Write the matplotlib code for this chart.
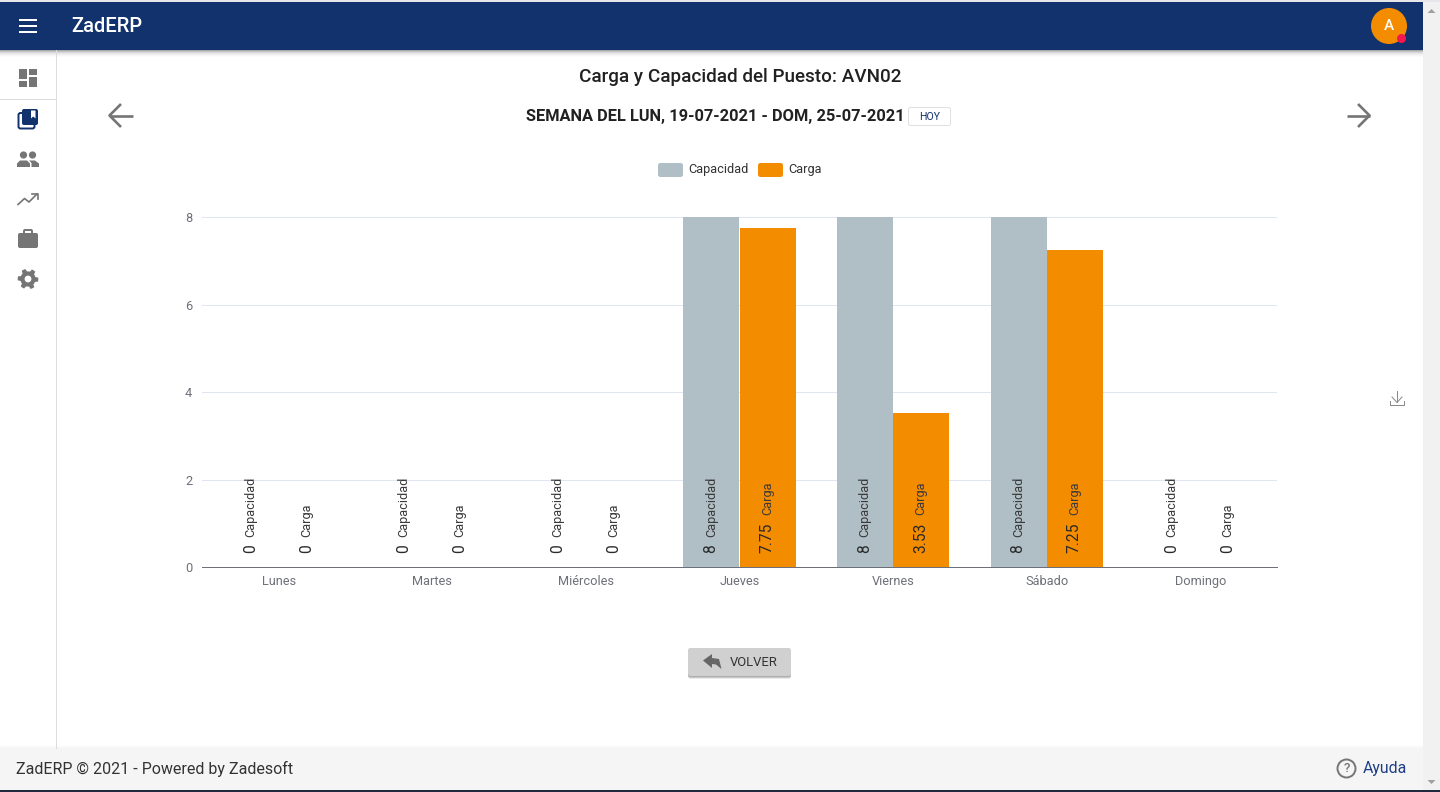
import matplotlib
matplotlib.use("Agg")
import matplotlib.pyplot as plt
import numpy as np
from matplotlib.patches import Rectangle, FancyBboxPatch, Circle, Polygon

plt.rcParams['font.family'] = ['Roboto', 'DejaVu Sans']

days = ["Lunes", "Martes", "Miércoles", "Jueves", "Viernes", "Sábado", "Domingo"]
capacidad = [0, 0, 0, 8, 8, 8, 0]
carga = [0, 0, 0, 7.75, 3.53, 7.25, 0]
yticks = [0, 2, 4, 6, 8]
series_names = ["Capacidad", "Carga"]

C_CAP = "#b0bec5"
C_CAR = "#f48c00"
NAVY = "#11326c"
GREY = "#757575"
PX = 0.72

W, H = 1440, 792
fig = plt.figure(figsize=(14.4, 7.92), dpi=100, facecolor="white")

# chart axes
ax = fig.add_axes([202/W, 1-567.4/H, 1075/W, 350/H], zorder=2)
ax.patch.set_alpha(0)
x = np.arange(len(days))
bw = 0.365
ax.bar(x-bw/2, capacidad, bw, color=C_CAP, zorder=3, antialiased=False)
ax.bar(x+bw/2, carga, bw, color=C_CAR, zorder=3, antialiased=False)
ax.set_xlim(-0.5, 6.5)
ax.set_ylim(0, 8)
ax.set_yticks(yticks)
ax.set_xticks(x)
ax.set_xticklabels(days, fontsize=9.2, color="#6e7079")
ax.tick_params(axis='x', length=0, pad=5.5)
ax.tick_params(axis='y', length=0, pad=7, labelsize=9.2, labelcolor="#6e7079")
for s in ("top", "left", "right"):
    ax.spines[s].set_visible(False)
ax.spines["bottom"].set_color("#6e7079")
ax.spines["bottom"].set_linewidth(PX)
ax.grid(axis='y', color="#e0e6f1", lw=PX, zorder=0)
ax.set_axisbelow(True)

def lab(xc, val, name):
    v = ax.annotate(f"{val:g}", (xc, 0), xytext=(-0.4, 10.5), textcoords="offset points",
                    rotation=90, ha="center", va="bottom", fontsize=11.2, color="#2a2a2a", zorder=5)
    ax.annotate(name, xy=(0.5, 1), xycoords=v, xytext=(0.3, 5), textcoords="offset points",
                rotation=90, ha="center", va="bottom", fontsize=9.2, color="#3a3a3a", zorder=5)

for i in range(len(days)):
    lab(x[i]-bw/2, capacidad[i], series_names[0])
    lab(x[i]+bw/2, carga[i], series_names[1])

# page chrome, in pixel coordinates
ov = fig.add_axes([0, 0, 1, 1], zorder=1)
ov.set_xlim(0, W); ov.set_ylim(H, 0); ov.axis("off")

def rect(a, x0, y0, w, h, c, **k):
    a.add_patch(Rectangle((x0, y0), w, h, fc=c, ec="none", **k))

# scrollbar, footer
rect(ov, 1423, 0, 17, H, "#f1f1f1")
rect(ov, 0, 748, 1423, 42, "#f5f5f5")
for i, c in enumerate(["#fdfdfd", "#fafafa", "#f8f8f8"]):
    rect(ov, 0, 745+i, 1423, 1, c)
rect(ov, 0, 790, 1440, 2, "#1f2a3c")
# header
rect(ov, 0, 0, 1440, 2, "#e4e6ea")
rect(ov, 0, 2, 1423, 48, NAVY)
for i, c in enumerate(["#a8a8a8", "#c4c4c4", "#d8d8d8", "#e6e6e6", "#efefef", "#f6f6f6", "#fbfbfb"]):
    rect(ov, 0, 50+i, 1423, 1, c)
# sidebar
ov.plot([55.5, 55.5], [50, 748], color="#dcdcdc", lw=PX)
ov.plot([0, 55], [98.5, 98.5], color="#dcdcdc", lw=PX)

# header contents
for y in (20, 26, 32):
    rect(ov, 19, y-1, 18, 2, "white")
ov.text(71.5, 26.5, "ZadERP", color="white", fontsize=14.5, va="center", ha="left", weight="medium")
ov.add_patch(Circle((1389, 26), 18, fc=C_CAR, ec="none"))
ov.text(1389, 26.5, "A", color="white", fontsize=11, va="center", ha="center", weight="medium")
ov.add_patch(Circle((1401.5, 38.5), 4.5, fc="#f5174e", ec="none"))
ov.add_patch(Polygon([(1427.5, 13), (1435.5, 13), (1431.5, 9)], fc="#a0a0a0", ec="none"))
ov.add_patch(Polygon([(1427.5, 780), (1435.5, 780), (1431.5, 784)], fc="#a0a0a0", ec="none"))

# sidebar icons
for (x0, y0, w, h) in [(19, 69, 8, 10), (19, 81, 8, 6), (29, 69, 8, 6), (29, 77, 8, 10)]:
    rect(ov, x0, y0, w, h, GREY)
ov.add_patch(FancyBboxPatch((18.5, 113), 16, 15.5, boxstyle="round,pad=0,rounding_size=2", fc="none", ec=NAVY, lw=1.4))
ov.add_patch(FancyBboxPatch((22, 109), 16, 16, boxstyle="round,pad=0,rounding_size=2", fc=NAVY, ec="none"))
ov.add_patch(Polygon([(31, 110.5), (35.5, 110.5), (35.5, 118.5), (33.2, 116.5), (31, 118.5)], fc="white", ec="none"))
# people
for cx in (23.5, 32.5):
    ov.add_patch(Circle((cx, 155), 3.6, fc=GREY, ec="none"))
ov.add_patch(Polygon([(17, 167), (17, 163.5), (20, 160.5), (27, 160.5), (30, 163.5), (30, 167)], fc=GREY, ec="none"))
ov.add_patch(Polygon([(31.5, 167), (31.5, 163), (29, 160.5), (35, 160.5), (39, 163.5), (39, 167)], fc=GREY, ec="none"))
# trending
ov.plot([18, 24.5, 29, 37], [204.5, 198.5, 202, 194], color=GREY, lw=1.2)
ov.plot([32, 37.5, 37.5], [193.5, 193.5, 199], color=GREY, lw=1.2)
# briefcase
ov.add_patch(FancyBboxPatch((18, 233), 20, 15, boxstyle="round,pad=0,rounding_size=2", fc=GREY, ec="none"))
ov.add_patch(FancyBboxPatch((24, 230), 8, 5, boxstyle="round,pad=0,rounding_size=1", fc="none", ec=GREY, lw=1.4))
# gear
ang = np.linspace(0, 2*np.pi, 49)[:-1]
rad = np.where(((np.arange(48) + 1) % 8) < 4, 10.3, 7.6)
ov.add_patch(Polygon(np.c_[28+rad*np.cos(ang), 279+rad*np.sin(ang)], fc=GREY, ec="none"))
ov.add_patch(Circle((28, 279), 3.4, fc="white", ec="none"))

# arrows
def arrow(xs, xe, y, d):
    ov.plot([xs, xe], [y, y], color=GREY, lw=1.9, solid_capstyle="butt")
    ov.plot([xe+d*11.5, xe, xe+d*11.5], [y-11.5, y, y+11.5], color=GREY, lw=1.9, solid_capstyle="butt")
arrow(132.5, 109.5, 115.5, 1)
arrow(1347, 1369.5, 115.5, -1)

# headings
ov.text(740, 76.5, "Carga y Capacidad del Puesto: AVN02", fontsize=13.55, weight="medium", color="#212121", ha="center", va="center")
ov.text(715.5, 116.5, "SEMANA DEL LUN, 19-07-2021 - DOM, 25-07-2021", fontsize=11.8, weight="bold", color="#212121", ha="center", va="center")
ov.add_patch(FancyBboxPatch((908.5, 107.5), 42, 18, boxstyle="round,pad=0,rounding_size=2", fc="white", ec="#e0e0e0", lw=PX))
ov.text(930, 116.5, "HOY", fontsize=7.6, color=NAVY, ha="center", va="center")

# legend
ov.add_patch(FancyBboxPatch((658, 163), 25, 14, boxstyle="round,pad=0,rounding_size=2.5", fc=C_CAP, ec="none"))
ov.add_patch(FancyBboxPatch((758, 163), 25, 14, boxstyle="round,pad=0,rounding_size=2.5", fc=C_CAR, ec="none"))
ov.text(688, 169.5, series_names[0], fontsize=9.2, color="#333333", va="center", ha="left")
ov.text(788, 169.5, series_names[1], fontsize=9.2, color="#333333", va="center", ha="left")

# download icon
ov.plot([1397, 1397], [391, 402], color="#8a8a8a", lw=PX)
ov.plot([1392, 1397, 1402], [397, 402.5, 397], color="#8a8a8a", lw=PX)
ov.plot([1390, 1390, 1404, 1404], [401, 405, 405, 401], color="#8a8a8a", lw=PX)

# button
for off, a in ((3, 0.25), (2, 0.5), (1, 0.8)):
    ov.add_patch(FancyBboxPatch((688, 648+off), 103, 28, boxstyle="round,pad=0,rounding_size=2.5", fc="#a8a8a8", ec="none", alpha=a))
ov.add_patch(FancyBboxPatch((688, 648), 103, 28, boxstyle="round,pad=0,rounding_size=2.5", fc="#d0d0d0", ec="none"))
ov.add_patch(Polygon([(703, 660.5), (712, 654), (712, 658), (719, 659), (721.5, 669), (716, 664.5), (712, 664), (712, 668)], fc="#666666", ec="none"))
ov.text(729.5, 662, "VOLVER", fontsize=9.4, color="#333333", va="center", ha="left")

# footer
ov.text(16, 768.5, "ZadERP © 2021 - Powered by Zadesoft", fontsize=11.5, color="#333333", va="center", ha="left")
ov.add_patch(Circle((1346.5, 768.5), 9, fc="none", ec=GREY, lw=1.4))
ov.text(1346.5, 768.5, "?", fontsize=9.5, color=GREY, va="center", ha="center", weight="medium")
ov.text(1363, 768.5, "Ayuda", fontsize=11.4, color="#1f3f85", va="center", ha="left")

fig.savefig("out.png", dpi=100, facecolor="white")
